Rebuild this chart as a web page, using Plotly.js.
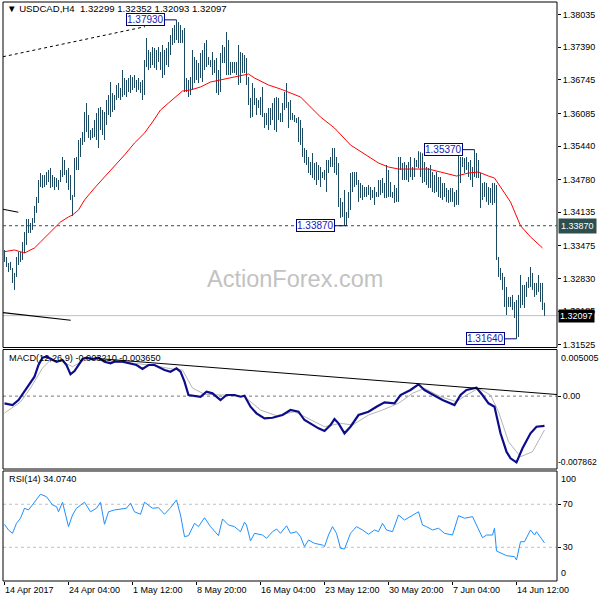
<!DOCTYPE html>
<html><head><meta charset="utf-8">
<script src="https://cdn.plot.ly/plotly-3.0.1.min.js"></script>
<style>html,body{margin:0;padding:0;background:#fff}#chart{width:600px;height:600px}</style>
</head><body><div id="chart"></div>
<script>
// ---- H4 bars (high / low), one per bar, oldest first ----
const barHigh = [
1.33392,1.33254,1.33136,1.33156,1.33037,1.32939,1.33254,1.33353,1.33353,1.33550,
1.33747,1.34003,1.34003,1.33925,1.34023,1.34260,1.34437,1.34772,1.34910,1.34870,
1.34870,1.34929,1.34969,1.35008,1.34870,1.34831,1.34811,1.34772,1.34969,1.35225,
1.35166,1.34969,1.35008,1.34870,1.34476,1.35205,1.35225,1.35560,1.35600,1.35718,
1.36112,1.36290,1.36053,1.35758,1.35797,1.35955,1.36093,1.36191,1.36211,1.36152,
1.36112,1.36349,1.36448,1.36704,1.36487,1.36448,1.36645,1.36685,1.36586,1.36941,
1.36783,1.36744,1.36783,1.36842,1.36803,1.36842,1.36744,1.36783,1.36704,1.36744,
1.37138,1.37572,1.37335,1.37296,1.37394,1.37375,1.37335,1.37394,1.37296,1.37434,
1.37335,1.37375,1.37493,1.37631,1.37769,1.37828,1.37930,1.37887,1.37828,1.37730,
1.37769,1.36783,1.36744,1.36803,1.37335,1.37197,1.37138,1.37079,1.37276,1.37335,
1.37473,1.37532,1.37197,1.37138,1.37296,1.37138,1.37177,1.36941,1.37276,1.37434,
1.37394,1.37690,1.37532,1.37099,1.37099,1.37099,1.37099,1.37434,1.37296,1.37276,
1.37237,1.37177,1.36803,1.36389,1.36685,1.36586,1.36389,1.36349,1.36409,1.36606,
1.36093,1.36093,1.36191,1.36191,1.36290,1.36389,1.36409,1.36389,1.36093,1.36290,
1.36507,1.36685,1.36310,1.36349,1.36093,1.36053,1.35994,1.36014,1.35955,1.35797,
1.35403,1.35363,1.35225,1.35127,1.35304,1.35107,1.35127,1.35067,1.35028,1.34929,
1.34969,1.35166,1.35166,1.35225,1.35403,1.35403,1.35225,1.35107,1.34417,1.34339,
1.34575,1.34141,1.34535,1.34910,1.34929,1.34929,1.34929,1.34772,1.34713,1.34673,
1.34634,1.34634,1.34673,1.34634,1.34575,1.34634,1.34535,1.34772,1.34772,1.34811,
1.34713,1.35067,1.34969,1.34732,1.34535,1.34673,1.34614,1.35225,1.35225,1.35107,
1.35127,1.35067,1.35127,1.35225,1.35028,1.35205,1.35166,1.35340,1.35320,1.35300,
1.35127,1.35028,1.35008,1.35067,1.34929,1.34870,1.34929,1.34831,1.34831,1.34713,
1.34713,1.34614,1.34575,1.34614,1.34614,1.34535,1.34575,1.35304,1.35225,1.35225,
1.35205,1.35225,1.35127,1.35166,1.35028,1.35370,1.35304,1.35166,1.34910,1.34713,
1.34732,1.34713,1.34634,1.34614,1.34713,1.34713,1.34673,1.33254,1.33037,1.32939,
1.32860,1.32663,1.32466,1.32466,1.32505,1.32367,1.32406,1.32505,1.32899,1.32702,
1.32702,1.32762,1.32860,1.33057,1.32939,1.32742,1.32742,1.32899,1.32742,1.32742,
1.32352];
const barLow = [
1.33156,1.33057,1.32958,1.32998,1.32742,1.32604,1.32860,1.33096,1.33156,1.33195,
1.33333,1.33491,1.33727,1.33727,1.33787,1.33925,1.34122,1.34319,1.34634,1.34614,
1.34634,1.34673,1.34732,1.34614,1.34634,1.34575,1.34634,1.34575,1.34732,1.34831,
1.34870,1.34713,1.34575,1.34378,1.34063,1.34437,1.34969,1.34969,1.35225,1.35462,
1.35521,1.35718,1.35600,1.35560,1.35600,1.35620,1.35560,1.35403,1.35758,1.35659,
1.35560,1.35856,1.36053,1.36014,1.36112,1.36152,1.36349,1.36389,1.36349,1.36409,
1.36448,1.36409,1.36507,1.36487,1.36547,1.36586,1.36507,1.36547,1.36487,1.36349,
1.36448,1.37000,1.36941,1.36980,1.37039,1.36980,1.36941,1.37099,1.36941,1.36783,
1.36842,1.37039,1.37000,1.37237,1.37434,1.37473,1.37532,1.37473,1.37473,1.37473,
1.36507,1.36507,1.36409,1.36448,1.36547,1.36685,1.36744,1.36685,1.36783,1.36704,
1.36941,1.37000,1.37039,1.37000,1.36842,1.36882,1.36487,1.36448,1.36507,1.37079,
1.37079,1.36842,1.36842,1.36842,1.36882,1.36882,1.36842,1.36645,1.36685,1.36882,
1.36882,1.36645,1.36250,1.35994,1.36014,1.36250,1.36053,1.36191,1.36053,1.36014,
1.35797,1.35856,1.35758,1.35856,1.35955,1.35758,1.35718,1.35955,1.35915,1.35915,
1.36152,1.36191,1.35797,1.35955,1.35955,1.35915,1.35896,1.35521,1.35462,1.35225,
1.35107,1.35067,1.34910,1.34870,1.34811,1.34772,1.34673,1.34772,1.34634,1.34811,
1.34772,1.34535,1.34910,1.35028,1.35028,1.34910,1.34870,1.34240,1.34023,1.34043,
1.33870,1.33870,1.34023,1.34181,1.34535,1.34634,1.34673,1.34339,1.34417,1.34378,
1.34437,1.34437,1.34476,1.34378,1.34417,1.34279,1.34437,1.34437,1.34476,1.34515,
1.34417,1.34417,1.34437,1.34437,1.34417,1.34319,1.34339,1.34339,1.34969,1.34772,
1.34772,1.34772,1.34732,1.34831,1.34772,1.34831,1.35028,1.35008,1.34831,1.34713,
1.34732,1.34673,1.34614,1.34614,1.34535,1.34515,1.34535,1.34437,1.34417,1.34378,
1.34437,1.34339,1.34319,1.34339,1.34339,1.34240,1.34279,1.34279,1.34713,1.35028,
1.34910,1.34969,1.34831,1.34772,1.34634,1.34831,1.34811,1.34811,1.34220,1.34378,
1.34437,1.34339,1.34279,1.34319,1.34279,1.34319,1.33195,1.32860,1.32801,1.32604,
1.32268,1.32110,1.32268,1.32268,1.32209,1.32051,1.31640,1.31676,1.32248,1.32307,
1.32248,1.32466,1.32643,1.32663,1.32604,1.32466,1.32505,1.32565,1.32367,1.32209,
1.32093];

// ---- moving average (red) ----
const maBars = [0,5,10,15,18,23,28,32,34,37,40,45,50,55,60,65,70,74,78,82,85,89,93,98,103,108,115,122,125,132,138,143,148,158,165,173,182,187,192,197,203,212,218,226,232,237,242,245,248,253,258,263,269];
const maValues = [1.33359,1.33392,1.33333,1.33432,1.33550,1.33747,1.33944,1.34043,1.34082,1.34181,1.34378,1.34614,1.34831,1.35028,1.35265,1.35501,1.35698,1.35915,1.36152,1.36290,1.36389,1.36527,1.36547,1.36606,1.36704,1.36744,1.36803,1.36862,1.36783,1.36645,1.36566,1.36487,1.36409,1.36014,1.35797,1.35462,1.35225,1.35107,1.35028,1.34988,1.34988,1.34988,1.34929,1.34850,1.34910,1.34929,1.34850,1.34811,1.34634,1.34339,1.33870,1.33649,1.33432];

// ---- MACD(12,26,9) ----
const macdBars = [0,4,7,10,12,15,17,19,21,23,26,29,31,33,35,37,39,41,44,47,50,53,55,59,63,66,69,72,75,77,80,83,86,88,90,92,95,98,101,104,108,111,115,118,120,123,126,130,134,139,143,147,150,154,157,160,163,165,167,170,173,177,182,186,190,195,198,203,207,210,214,219,225,228,231,236,239,242,245,248,251,253,256,259,263,266,270];
const macdValues = [-0.000777,-0.000960,-0.000421,0.000475,0.001197,0.002092,0.003354,0.004141,0.004249,0.004001,0.003710,0.003893,0.003354,0.002351,0.002707,0.003354,0.004001,0.004141,0.004001,0.004141,0.003710,0.003537,0.003710,0.003710,0.003537,0.003354,0.002923,0.003354,0.003354,0.003171,0.002815,0.002632,0.002998,0.002632,0.001553,0.000119,0.000043,-0.000065,0.000475,0.000302,-0.000421,0.000119,0.000119,-0.000065,0.000043,-0.001143,-0.001855,-0.002394,-0.002330,-0.002038,-0.001499,-0.001682,-0.002578,-0.003117,-0.003473,-0.003764,-0.003117,-0.002470,-0.002934,-0.004012,-0.003300,-0.002038,-0.001682,-0.001143,-0.000669,-0.000777,0.000119,0.000658,0.001273,0.000658,0.000194,-0.000421,-0.000960,0.000119,0.000658,0.000906,0.000119,-0.000777,-0.001143,-0.004012,-0.005996,-0.006708,-0.007140,-0.005630,-0.004012,-0.003300,-0.003210];
const signalBars = [0,8,13,19,23,29,34,40,48,55,65,75,84,89,94,100,109,120,128,136,145,153,160,168,174,182,189,197,204,210,218,226,231,237,243,247,252,258,264,270];
const signalValues = [-0.001823,-0.000636,0.000874,0.003031,0.003893,0.003710,0.003171,0.003893,0.003893,0.003710,0.003537,0.003279,0.002923,0.002815,0.000874,0.000194,0.000119,-0.000065,-0.001499,-0.002114,-0.001682,-0.002578,-0.003300,-0.002934,-0.003117,-0.002038,-0.001499,-0.000777,0.000302,0.000841,-0.000065,-0.000604,0.000119,0.000841,0.000119,-0.001682,-0.004918,-0.006536,-0.005996,-0.003650];

// ---- RSI(14) ----
const rsiBars = [0,2,4,6,8,10,12,15,18,21,24,26,27,29,30,32,34,36,40,43,46,48,50,52,55,61,63,65,68,70,74,77,80,83,86,88,90,92,95,97,100,103,107,109,112,115,118,120,121,123,125,129,131,134,136,138,141,143,146,148,150,152,155,159,160,162,164,166,168,170,173,176,179,182,185,187,189,191,194,197,200,203,207,209,211,214,217,220,224,227,230,234,237,239,241,244,245,246,251,255,256,258,260,263,265,266,270];
const rsiValues = [51.4,46,43,52.3,57,66.3,64.7,72.4,79.3,77,69.3,67.8,63,71.9,64.7,49.2,60,66.3,71.9,63,66.3,71.9,51.4,63,64.7,66.3,71,63,60.7,71.9,66.3,66.8,60.7,66.8,74,60,39.9,40.8,52.3,49.2,57.5,49.2,40.8,56.3,50.7,49.2,44.5,53.3,50.7,35.9,43,41.4,38.4,44.5,47,43,50,43,44.5,39.9,30.6,36.8,33.7,32.1,30.6,41.4,49.2,43,29.1,28.4,43,49.2,46.1,42.1,46.1,44.5,52.3,46.1,44.5,60,55.4,58.5,63,50.7,49.2,46.1,47.7,43,41.4,59.4,57,58.5,46.1,38.9,41.4,41.4,47.7,26.6,22.2,21.3,18.2,35.2,35.2,46.1,41.4,44.5,34.074];

// ---- labels / levels ----
const timeLabelBars = [0,32,64,96,128,160,192,224,256];
const timeLabels = ['14 Apr 2017','24 Apr 04:00','1 May 12:00','8 May 20:00','16 May 04:00','23 May 12:00','30 May 20:00','7 Jun 04:00','14 Jun 12:00'];
const priceTicks = [1.38035,1.37390,1.36745,1.36085,1.35440,1.34780,1.34135,1.33475,1.32830,1.32185,1.31525];
const lastOHLC = [1.32299,1.32352,1.32093,1.32097];
const swingBars = [86,235,171,256];
const swingPrices = [1.37930,1.35370,1.33870,1.31640];
const levelPrice = 1.33870;
const macdLast = [-0.003210,-0.003650];
const rsiLast = 34.0740;
const macdEdges = [0.005005,-0.007862];
// trend lines drawn on the chart
const priceTrendBars = [[-0.75,70.25],[-0.75,6.9],[-0.75,33.1]];
const priceTrendPrices = [[1.37203,1.37795],[1.34195,1.34136],[1.32156,1.32006]];
const macdTrendBars = [46.5,276.25];
const macdTrendValues = [0.004055,0.000173];

const FONT = 'Liberation Sans, Arial, sans-serif';
const BAR_COLOR = '#1b4a62';

const bx = [], by = [];
barHigh.forEach((h, i) => { bx.push(i, i, null); by.push(barLow[i], h, null); });

const traces = [
  {type:'scatter', mode:'lines', x:bx, y:by, xaxis:'x', yaxis:'y', line:{color:BAR_COLOR, width:1}, hoverinfo:'skip'},
  {type:'scatter', mode:'lines', x:maBars, y:maValues, xaxis:'x', yaxis:'y', line:{color:'#ff0000', width:1}, hoverinfo:'skip'},
  {type:'scatter', mode:'lines', x:priceTrendBars[0], y:priceTrendPrices[0], xaxis:'x', yaxis:'y', line:{color:'#000', width:1, dash:'3px,3px'}, hoverinfo:'skip'},
  {type:'scatter', mode:'lines', x:priceTrendBars[1], y:priceTrendPrices[1], xaxis:'x', yaxis:'y', line:{color:'#000', width:1.2}, hoverinfo:'skip'},
  {type:'scatter', mode:'lines', x:priceTrendBars[2], y:priceTrendPrices[2], xaxis:'x', yaxis:'y', line:{color:'#000', width:1.2}, hoverinfo:'skip'},
  {type:'scatter', mode:'lines', x:signalBars, y:signalValues, xaxis:'x', yaxis:'y2', line:{color:'#b4b4b4', width:1}, hoverinfo:'skip'},
  {type:'scatter', mode:'lines', x:macdBars, y:macdValues, xaxis:'x', yaxis:'y2', line:{color:'#0d0d8c', width:2.2}, hoverinfo:'skip'},
  {type:'scatter', mode:'lines', x:macdTrendBars, y:macdTrendValues, xaxis:'x', yaxis:'y2', line:{color:'#000', width:1}, hoverinfo:'skip'},
  {type:'scatter', mode:'lines', x:rsiBars, y:rsiValues, xaxis:'x', yaxis:'y3', line:{color:'#1e90ff', width:1}, hoverinfo:'skip'}
];

const tickFont = {family:FONT, size:9, color:'#000'};
const shapes = [
  {type:'rect', xref:'paper', yref:'y domain', x0:0, x1:1, y0:0, y1:1, line:{color:'#000', width:1}},
  {type:'rect', xref:'paper', yref:'y2 domain', x0:0, x1:1, y0:0, y1:1, line:{color:'#000', width:1}},
  {type:'rect', xref:'paper', yref:'y3 domain', x0:0, x1:1, y0:0, y1:1, line:{color:'#000', width:1}},
  {type:'line', xref:'paper', yref:'y', x0:0, x1:1, y0:lastOHLC[3], y1:lastOHLC[3], line:{color:'#c0c0c0', width:1}, layer:'below'},
  {type:'line', xref:'paper', yref:'y', x0:0, x1:1, y0:levelPrice, y1:levelPrice, line:{color:'#2f4f4f', width:1, dash:'3px,3px'}},
  {type:'line', xref:'paper', yref:'y2', x0:0, x1:1, y0:0, y1:0, line:{color:'#777', width:1, dash:'3px,3px'}, layer:'below'},
  {type:'line', xref:'paper', yref:'y3', x0:0, x1:1, y0:70, y1:70, line:{color:'#c0c0c0', width:1, dash:'3px,3px'}, layer:'below'},
  {type:'line', xref:'paper', yref:'y3', x0:0, x1:1, y0:30, y1:30, line:{color:'#c0c0c0', width:1, dash:'3px,3px'}, layer:'below'}
];

const fmt5 = v => v.toFixed(5);
const fmt6 = v => v.toFixed(6);
const sp = '\u00a0';
const annotations = [
  {xref:'paper', yref:'paper', x:0, y:1, xanchor:'left', yanchor:'top', xshift:3, yshift:0, borderpad:0, showarrow:false,
   text:'\u25BC' + sp + 'USDCAD,H4' + sp + sp + lastOHLC.map(fmt5).join(sp), font:{family:FONT, size:9.6, color:'#000'}},
  {xref:'paper', yref:'y2 domain', x:0, y:1, xanchor:'left', yanchor:'top', xshift:4, yshift:-1, showarrow:false,
   text:'MACD(12,26,9)' + sp + fmt6(macdLast[0]) + sp + fmt6(macdLast[1]), font:{family:FONT, size:9.2, color:'#000'}},
  {xref:'paper', yref:'y3 domain', x:0, y:1, xanchor:'left', yanchor:'top', xshift:4, yshift:-1, showarrow:false,
   text:'RSI(14)' + sp + rsiLast.toFixed(4), font:{family:FONT, size:9.2, color:'#000'}},
  {xref:'paper', yref:'paper', x:0.527, y:0.5216, xanchor:'center', yanchor:'middle', showarrow:false,
   text:'ActionForex.com', font:{family:FONT, size:23.5, color:'#c2c2c2'}},
  {xref:'paper', yref:'y2 domain', x:1, y:1, xanchor:'left', yanchor:'top', xshift:2, yshift:-1, showarrow:false,
   text:fmt6(macdEdges[0]), font:tickFont},
  {xref:'paper', yref:'y2 domain', x:1, y:0, xanchor:'left', yanchor:'bottom', xshift:0, yshift:1, borderpad:0, showarrow:false,
   text:fmt6(macdEdges[1]), font:{family:FONT, size:8.6, color:'#000'}},
  {xref:'paper', yref:'y3 domain', x:1, y:1, xanchor:'left', yanchor:'top', xshift:2, yshift:-1, showarrow:false,
   text:'100', font:tickFont},
  {xref:'paper', yref:'y3 domain', x:1, y:0, xanchor:'left', yanchor:'bottom', xshift:2, yshift:1, showarrow:false,
   text:'0', font:tickFont},
  {xref:'paper', yref:'y', x:1, y:levelPrice, xanchor:'left', yanchor:'middle', xshift:1, showarrow:false,
   text:fmt5(levelPrice), bgcolor:'#2f4f4f', borderpad:2, font:{family:FONT, size:9, color:'#fff'}},
  {xref:'paper', yref:'y', x:1, y:lastOHLC[3], xanchor:'left', yanchor:'middle', xshift:1, showarrow:false,
   text:fmt5(lastOHLC[3]), bgcolor:'#000', borderpad:1, font:{family:FONT, size:9, color:'#fff'}}
];
swingBars.forEach((b, k) => {
  annotations.push({xref:'x', yref:'y', x:b, y:swingPrices[k], ax:-31, ay:0, showarrow:true, arrowhead:0,
    arrowwidth:1, arrowcolor:'#000080', standoff:0, text:fmt5(swingPrices[k]), bgcolor:'#fff',
    bordercolor:'#000080', borderwidth:1, borderpad:0, font:{family:FONT, size:10, color:'#1a1ab0'}});
});

const layout = {
  width:600, height:600, margin:{l:3, r:43, t:2, b:19},
  paper_bgcolor:'#fff', plot_bgcolor:'#fff', showlegend:false,
  xaxis:{domain:[0,1], anchor:'y3', range:[-0.75,276.25], tickmode:'array', tickvals:timeLabelBars, ticktext:timeLabels,
    ticks:'outside', ticklen:3, tickcolor:'#000', ticklabelposition:'outside right', tickfont:tickFont,
    showgrid:false, zeroline:false, showline:false, fixedrange:true},
  yaxis:{domain:[0.4033,1], anchor:'x', side:'right', range:[1.31469,1.38282], tickmode:'array', tickvals:priceTicks,
    ticktext:priceTicks.map(fmt5), ticks:'outside', ticklen:3, tickcolor:'#000', tickfont:tickFont,
    showgrid:false, zeroline:false, showline:false},
  yaxis2:{domain:[0.1934,0.3998], anchor:'x', side:'right', range:[-0.007862,0.005026], tickmode:'array', tickvals:[0],
    ticktext:['0.00'], ticks:'outside', ticklen:3, tickcolor:'#000', tickfont:tickFont,
    showgrid:false, zeroline:false, showline:false},
  yaxis3:{domain:[0,0.19], anchor:'x', side:'right', range:[-1.3,100.9], tickmode:'array', tickvals:[30,70],
    ticktext:['30','70'], ticks:'outside', ticklen:3, tickcolor:'#000', tickfont:tickFont,
    showgrid:false, zeroline:false, showline:false},
  shapes:shapes, annotations:annotations
};

Plotly.newPlot('chart', traces, layout, {staticPlot:true, displayModeBar:false});
</script>
</body></html>
